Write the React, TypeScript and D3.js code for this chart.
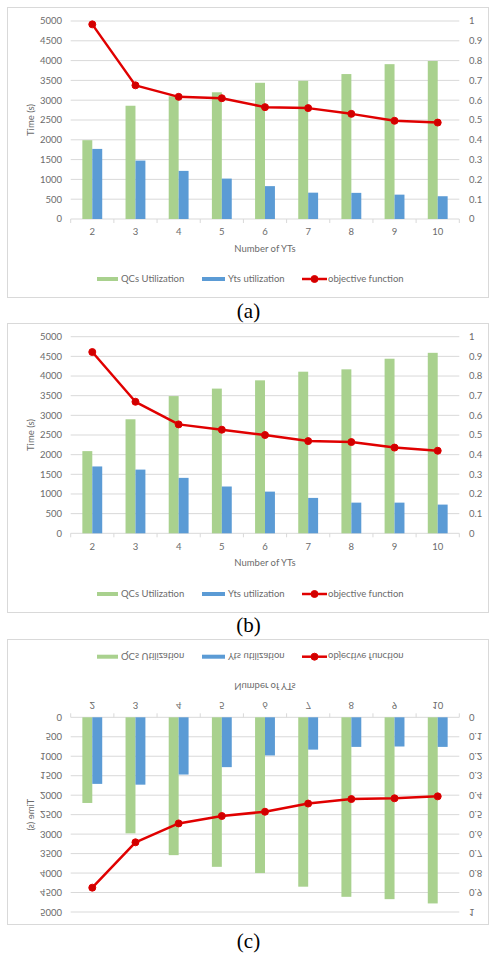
import React from 'react';
import * as d3 from 'd3';

const categories = ['2', '3', '4', '5', '6', '7', '8', '9', '10'];

// Panel (a)
const qcsA = [1990, 2860, 3100, 3200, 3440, 3490, 3660, 3910, 3990];
const ytsA = [1770, 1475, 1215, 1020, 830, 665, 660, 615, 575];
const objA = [0.983, 0.675, 0.617, 0.61, 0.565, 0.56, 0.531, 0.496, 0.487];

// Panel (b)
const qcsB = [2090, 2900, 3490, 3680, 3890, 4110, 4170, 4440, 4590];
const ytsB = [1700, 1620, 1410, 1190, 1060, 900, 780, 780, 730];
const objB = [0.922, 0.669, 0.554, 0.527, 0.5, 0.469, 0.464, 0.436, 0.42];

// Panel (c)
const qcsC = [2200, 2980, 3540, 3840, 4000, 4350, 4610, 4670, 4780];
const ytsC = [1710, 1730, 1470, 1280, 980, 830, 760, 750, 760];
const objC = [0.875, 0.642, 0.545, 0.507, 0.485, 0.443, 0.42, 0.416, 0.406];

const leftTicks = [0, 500, 1000, 1500, 2000, 2500, 3000, 3500, 4000, 4500, 5000];
const rightTicks = [0, 0.1, 0.2, 0.3, 0.4, 0.5, 0.6, 0.7, 0.8, 0.9, 1];
const seriesNames = ['QCs Utilization', 'Yts utilization', 'objective function'];
const captions = ['(a)', '(b)', '(c)'];
const yTitle = 'Time (s)';
const xTitle = 'Number of YTs';

const GREEN = '#a9d18e';
const BLUE = '#5b9bd5';
const RED = '#e00000';
const TEXT = '#6b6b6b';
const GRID = '#d9d9d9';
const FONT = 'Lato, "Open Sans", sans-serif';

type Cfg = {
  top: number; H: number; plotTop: number; plotBottom: number;
  tickY: number; titleY: number; legendY: number; flip: boolean;
};

const cfgs: Cfg[] = [
  { top: 7, H: 290, plotTop: 14, plotBottom: 212, tickY: 225, titleY: 242, legendY: 272, flip: false },
  { top: 323, H: 289, plotTop: 13.7, plotBottom: 210.3, tickY: 224, titleY: 240, legendY: 271, flip: false },
  { top: 640, H: 285, plotTop: 13, plotBottom: 207.7, tickY: 220, titleY: 238.3, legendY: 268.3, flip: true },
];

const captionY = [317.5, 632, 947.5];

function Panel({ cfg, qcs, yts, obj }: { cfg: Cfg; qcs: number[]; yts: number[]; obj: number[] }) {
  const x = d3.scaleBand<string>().domain(categories).range([70.7, 459.3]).paddingInner(0.54).paddingOuter(0.27);
  const xs = d3.scaleBand<string>().domain(['qcs', 'yts']).range([0, x.bandwidth()]);
  const y = d3.scaleLinear().domain([0, 5000]).range([cfg.plotBottom, cfg.plotTop]);
  const y2 = d3.scaleLinear().domain([0, 1]).range([cfg.plotBottom, cfg.plotTop]);
  const cx = (i: number) => (x(categories[i]) as number) + x.bandwidth() / 2;
  const line = d3.line<number>().x((_, i) => cx(i)).y((d) => y2(d));
  const transform = cfg.flip
    ? `translate(0,${cfg.top + cfg.H}) scale(1,-1)`
    : `translate(0,${cfg.top})`;
  const step = x.step();
  const x0 = x.range()[0];
  const bounds = d3.range(categories.length + 1).map((i) => x0 + i * step);
  const midY = (cfg.plotTop + cfg.plotBottom) / 2;

  return (
    <g transform={transform} fontFamily={FONT} fill={TEXT}>
      <rect x={7.5} y={0.5} width={481} height={cfg.H} fill="#fff" stroke={GRID} />
      {leftTicks.map((t) => (
        <line key={'g' + t} x1={x0} x2={x.range()[1]} y1={y(t)} y2={y(t)} stroke={GRID} strokeWidth={1} />
      ))}
      {bounds.map((b, i) => (
        <line key={'t' + i} x1={b} x2={b} y1={cfg.plotBottom} y2={cfg.plotBottom + 4} stroke={GRID} />
      ))}
      {categories.map((c, i) => (
        <g key={'b' + c}>
          <rect x={(x(c) as number) + (xs('qcs') as number)} y={y(qcs[i])} width={xs.bandwidth()} height={y(0) - y(qcs[i])} fill={GREEN} />
          <rect x={(x(c) as number) + (xs('yts') as number)} y={y(yts[i])} width={xs.bandwidth()} height={y(0) - y(yts[i])} fill={BLUE} />
        </g>
      ))}
      <path d={line(obj) as string} fill="none" stroke={RED} strokeWidth={2.5} strokeLinejoin="round" />
      {obj.map((v, i) => (
        <circle key={'m' + i} cx={cx(i)} cy={y2(v)} r={3.5} fill="#d00000" stroke={RED} strokeWidth={1} />
      ))}
      {leftTicks.map((t) => (
        <text key={'l' + t} x={62} y={y(t)} dy="0.35em" textAnchor="end" fontSize={9.5}>{t}</text>
      ))}
      {rightTicks.map((t) => (
        <text key={'r' + t} x={469} y={y2(t)} dy="0.35em" textAnchor="start" fontSize={9.5}>{String(t)}</text>
      ))}
      {categories.map((c, i) => (
        <text key={'x' + c} x={cx(i)} y={cfg.tickY} dy="0.35em" textAnchor="middle" fontSize={9.5}>{c}</text>
      ))}
      <text x={265} y={cfg.titleY} dy="0.35em" textAnchor="middle" fontSize={9.5}>{xTitle}</text>
      <text transform={`translate(31,${midY}) rotate(-90)`} dy="0.35em" textAnchor="middle" fontSize={9.5}>{yTitle}</text>
      <g>
        <rect x={97} y={cfg.legendY - 2} width={21} height={4} fill={GREEN} />
        <text x={121} y={cfg.legendY} dy="0.35em" fontSize={9.5}>{seriesNames[0]}</text>
        <rect x={202} y={cfg.legendY - 2} width={23} height={4} fill={BLUE} />
        <text x={228} y={cfg.legendY} dy="0.35em" fontSize={9.5}>{seriesNames[1]}</text>
        <line x1={302} x2={327} y1={cfg.legendY} y2={cfg.legendY} stroke={RED} strokeWidth={2.5} />
        <circle cx={314.5} cy={cfg.legendY} r={3.5} fill="#d00000" stroke={RED} />
        <text x={328} y={cfg.legendY} dy="0.35em" fontSize={9.5}>{seriesNames[2]}</text>
      </g>
    </g>
  );
}

export default function App() {
  const data = [
    { qcs: qcsA, yts: ytsA, obj: objA },
    { qcs: qcsB, yts: ytsB, obj: objB },
    { qcs: qcsC, yts: ytsC, obj: objC },
  ];
  return (
    <svg width={489} height={954} style={{ position: 'absolute', left: 0, top: 0, background: '#fff' }}>
      <rect x={0} y={0} width={489} height={954} fill="#fff" />
      {data.map((d, i) => (
        <Panel key={i} cfg={cfgs[i]} qcs={d.qcs} yts={d.yts} obj={d.obj} />
      ))}
      {captions.map((c, i) => (
        <text key={c} x={248.5} y={captionY[i]} textAnchor="middle" fontFamily='"Liberation Serif", "Times New Roman", serif' fontSize={21} fill="#000">{c}</text>
      ))}
    </svg>
  );
}
